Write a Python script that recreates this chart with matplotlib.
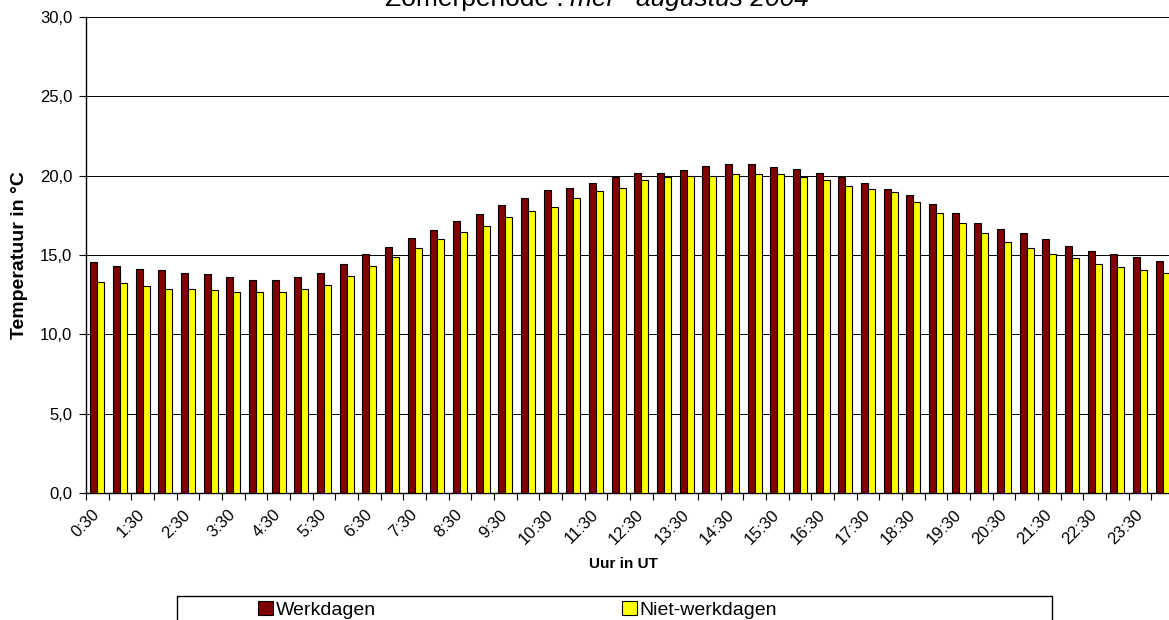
import numpy as np
import matplotlib
matplotlib.use('Agg')
import matplotlib.pyplot as plt
from matplotlib.patches import Rectangle

plt.rcParams['font.family'] = ['Liberation Sans', 'DejaVu Sans']

# half-hour classes 0:30 .. 24:00
tijden = ["{}:{}".format((i + 1) // 2, "30" if i % 2 == 0 else "00")
          for i in range(48)]
werkdagen = [14.53, 14.34, 14.15, 14.06, 13.87, 13.79, 13.60, 13.42, 13.42, 13.60,
             13.87, 14.42, 15.07, 15.53, 16.09, 16.55, 17.12, 17.60, 18.13, 18.59,
             19.08, 19.24, 19.54, 19.90, 20.17, 20.17, 20.36, 20.63, 20.72, 20.72,
             20.55, 20.44, 20.17, 19.90, 19.52, 19.14, 18.78, 18.23, 17.67, 17.03,
             16.66, 16.38, 16.00, 15.55, 15.27, 15.08, 14.89, 14.62]
niet_werkdagen = [13.31, 13.23, 13.04, 12.85, 12.85, 12.77, 12.68, 12.68, 12.68, 12.85,
                  13.14, 13.69, 14.34, 14.90, 15.42, 15.99, 16.47, 16.83, 17.39, 17.77,
                  18.04, 18.59, 19.05, 19.24, 19.71, 19.90, 19.98, 19.98, 20.09, 20.09,
                  20.09, 19.90, 19.71, 19.35, 19.14, 18.97, 18.32, 17.67, 17.02, 16.37,
                  15.82, 15.44, 15.08, 14.79, 14.43, 14.24, 14.05, 13.86]
yticks = [0, 5, 10, 15, 20, 25, 30]
ytick_labels = ["0,0", "5,0", "10,0", "15,0", "20,0", "25,0", "30,0"]

x = np.arange(len(tijden))
w = 0.31

W, H = 1169, 620
fig = plt.figure(figsize=(W / 100, H / 100), dpi=100)
# plot area runs past the right edge, as in the cropped original
ax = fig.add_axes([86 / W, 0.2048, 1088 / W, 0.7677])

b1 = ax.bar(x - w / 2, werkdagen, w, color='#800000', edgecolor='black',
            linewidth=0.8, label='Werkdagen', zorder=3)
b2 = ax.bar(x + w / 2, niet_werkdagen, w, color='#FFFF00', edgecolor='black',
            linewidth=0.8, label='Niet-werkdagen', zorder=3)

ax.set_xlim(-0.5, len(tijden) - 0.5)
ax.set_ylim(0, 30)
ax.set_yticks(yticks)
ax.set_yticklabels(ytick_labels, fontsize=12)
ax.yaxis.grid(True, color='black', linewidth=0.7)
ax.set_axisbelow(True)

# tick marks on class boundaries, labels on every other class
ax.set_xticks(np.arange(-0.5, len(tijden), 1.0))
ax.set_xticklabels([])
ax.set_xticks(x[::2], minor=True)
ax.set_xticklabels(tijden[::2], minor=True, rotation=45, ha='right',
                   va='center', rotation_mode='anchor', fontsize=12)
ax.tick_params(axis='x', which='minor', length=0, pad=14)
ax.tick_params(axis='x', which='major', length=5, width=0.8, direction='out')
ax.tick_params(axis='y', length=5, width=0.8, direction='out', pad=5)

for s in ['top', 'right']:
    ax.spines[s].set_visible(False)
ax.spines['left'].set_linewidth(1)
ax.spines['bottom'].set_linewidth(1)

ax.set_ylabel("Temperatuur in °C", fontsize=14, fontweight='bold')
ax.yaxis.set_label_coords(-0.053, 0.5)
ax.set_xlabel("Uur in UT", fontsize=11, fontweight='bold')
ax.xaxis.set_label_coords((623 - 86) / 1088, -0.135)

# title, partly cut off at the top
t1 = fig.text(0.3, 0.982, "Zomerperiode :", fontsize=19, ha='left', va='bottom')
t2 = ax.annotate("mei - augustus 2004", xy=(1, 0), xycoords=t1, xytext=(5, 0),
                 textcoords='offset points', fontsize=19, style='italic',
                 ha='left', va='bottom', annotation_clip=False)
fig.canvas.draw()
r = fig.canvas.get_renderer()
x0 = t1.get_window_extent(r).x0
x1 = t2.get_window_extent(r).x1
t1.set_x(t1.get_position()[0] + (597 - (x0 + x1) / 2) / W)

# legend frame and entries
fig.patches.append(Rectangle((177 / W, -0.05), (1052 - 177) / W, (H - 596) / H + 0.05,
                             transform=fig.transFigure, fill=False,
                             edgecolor='black', linewidth=1, clip_on=False))
for h, xpos in [(b1, 258), (b2, 622)]:
    fig.legend(handles=[h], loc='center left', bbox_to_anchor=(xpos / W, 10 / H),
               frameon=False, fontsize=14, handlelength=0.75, handleheight=0.75,
               handletextpad=0.15, borderpad=0, borderaxespad=0)

fig.savefig('out.png', dpi=100)
